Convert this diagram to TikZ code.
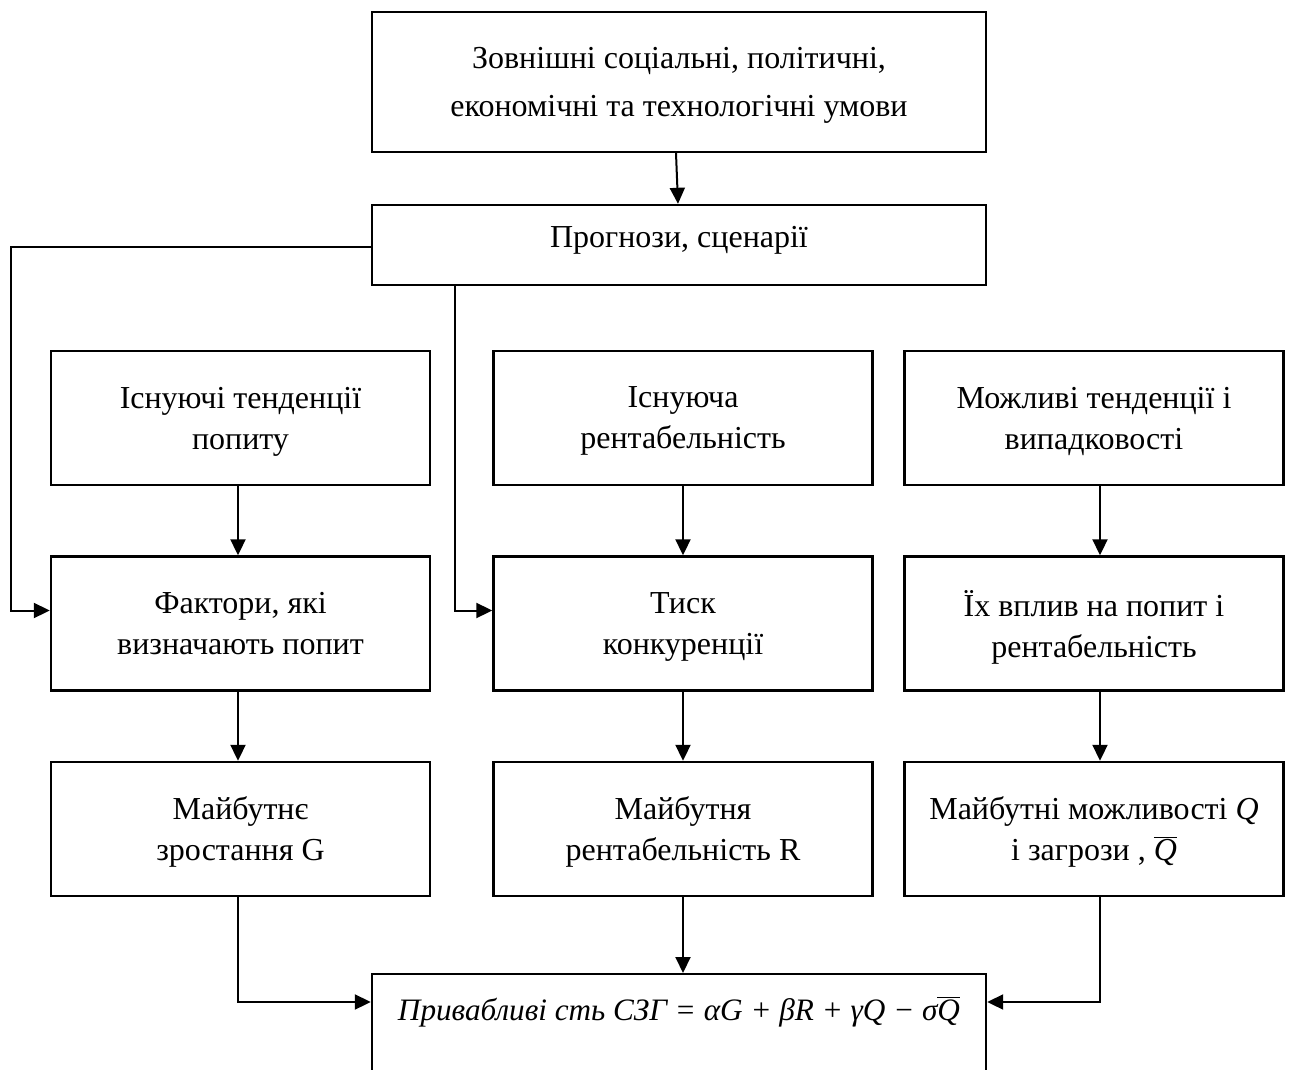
\documentclass[tikz,border=0pt]{standalone}
\usepackage{fontspec}
\setmainfont{Liberation Serif}
\usetikzlibrary{arrows.meta}

\tikzset{
  blok/.style={draw, line width=1.2pt, align=center, inner sep=0pt,
               font=\fontsize{16}{20.5}\selectfont},
  wide/.style={blok, minimum width=307pt},
  col/.style={blok, minimum width=189.5pt, minimum height=67pt, text depth=-4pt},
  link/.style={line width=1pt, ->}
}

\begin{document}
\begin{tikzpicture}[x=0.5pt,y=-0.5pt,>={Triangle[length=8pt,width=7.5pt]}]
    \useasboundingbox (0,0) rectangle (1291,1070);

    % upper part
    \node[wide, minimum height=70pt, font=\fontsize{16}{24}\selectfont, text depth=-6.5pt] (zovn) at (679,82)
        {Зовнішні соціальні, політичні,\\економічні та технологічні умови};
    \node[wide, minimum height=40pt, text depth=8pt] (progn) at (679,245)
        {Прогнози, сценарії};

    % three columns
    \node[col] (ist)   at (240.5,418) {Існуючі тенденції\\попиту};
    \node[col] (isr)   at (683,418)   {Існуюча\\рентабельність};
    \node[col] (mozh)  at (1094,418)  {Можливі тенденції і\\випадковості};

    \node[col] (fak)   at (240.5,623.5) {Фактори, які\\визначають попит};
    \node[col] (tisk)  at (683,623.5)   {Тиск\\конкуренції};
    \node[col] (vplyv) at (1094,623.5)  {Їх вплив на попит і\\рентабельність};

    \node[col] (gro)   at (240.5,829) {Майбутнє\\зростання G};
    \node[col] (rent)  at (683,829)   {Майбутня\\рентабельність R};
    \node[col] (zagr)  at (1094,829)
        {Майбутні можливості \textit{Q}\\і загрози , $\overline{\mbox{\itshape Q}}$};

    % result
    \node[wide, anchor=north, minimum height=64pt, text depth=30pt,
          font=\fontsize{15.6}{20.5}\selectfont] (priv) at (679,973)
        {\itshape Привабливі сть СЗГ = αG + βR + γQ − σ$\overline{\mbox{\itshape Q}}$};

    % connectors
    \draw[link] ([xshift=-1.5pt]zovn.south) -- ([xshift=-0.5pt]progn.north);
    \draw[link] ([yshift=-1pt]progn.west) -- ++(-360,0) |- ([yshift=6.5pt]fak.west);
    \draw[link] ([xshift=-112pt]progn.south) |- ([yshift=6.5pt]tisk.west);

    \foreach \a/\b/\s in {ist/fak/-1.25pt, fak/gro/-1.25pt,
                          isr/tisk/0pt, tisk/rent/0pt,
                          mozh/vplyv/3pt, vplyv/zagr/3pt}
        \draw[link] ([xshift=\s]\a.south) -- ([xshift=\s]\b.north);

    \draw[link] ([xshift=-1.25pt]gro.south) |- ([yshift=-14.5pt]priv.north west);
    \draw[link] (rent.south) -- (rent.south |- priv.north);
    \draw[link] ([xshift=3pt]zagr.south) |- ([yshift=-14.5pt]priv.north east);

\end{tikzpicture}
\end{document}
